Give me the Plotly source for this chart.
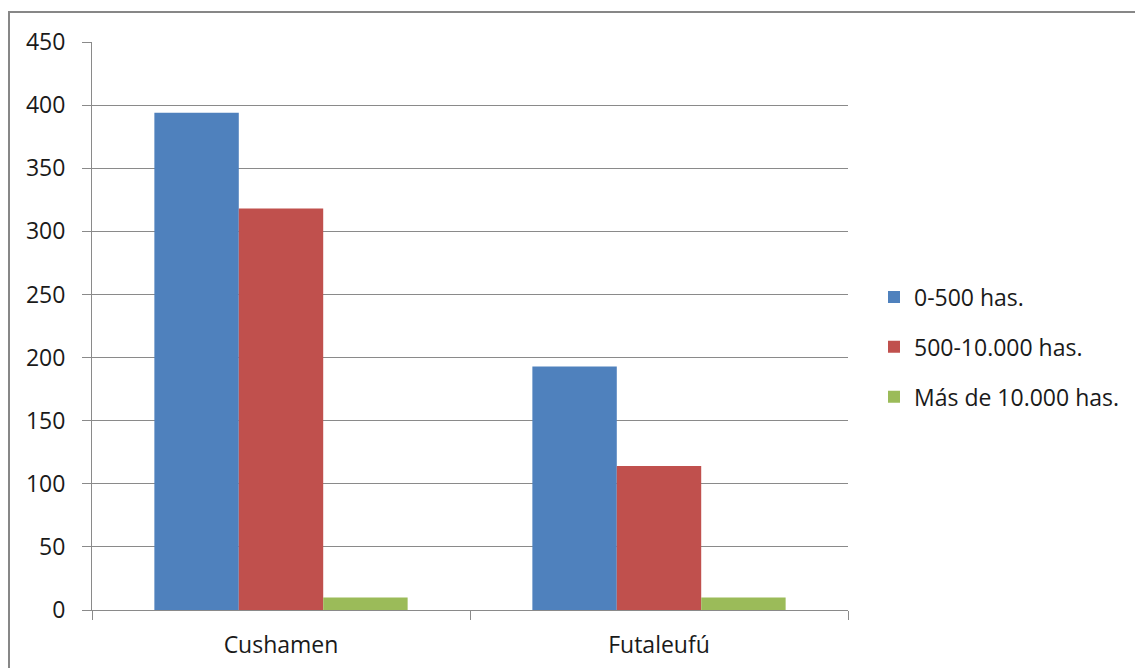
import plotly.graph_objects as go

categories = ["Cushamen", "Futaleufú"]
series_names = ["0-500 has.", "500-10.000 has.", "Más de 10.000 has."]
values_0_500 = [394, 193]
values_500_10000 = [318, 114]
values_mas_10000 = [10, 10]
y_ticks = [0, 50, 100, 150, 200, 250, 300, 350, 400, 450]

colors = ["#4F81BD", "#C0504D", "#9BBB59"]
FONT = "Open Sans"
FS = 23

fig = go.Figure()
for i, (name, vals) in enumerate(zip(series_names, [values_0_500, values_500_10000, values_mas_10000])):
    fig.add_trace(go.Bar(
        x=categories, y=vals, name=name, marker_color=colors[i],
        marker_line_width=0, legendgroup=f"g{i}",
    ))

W, H = 1135, 668
L, R, T, B = 92, 848, 42, 610
pw, ph = R - L, B - T

fig.update_layout(
    width=W, height=H,
    margin=dict(l=L, r=W - R, t=T, b=H - B, pad=0, autoexpand=False),
    paper_bgcolor="white", plot_bgcolor="white",
    barmode="group", bargap=0.33, bargroupgap=0,
    font=dict(family=FONT, size=FS, color="#1a1a1a"),
    legend=dict(
        x=(874 - L) / pw, xanchor="left",
        y=(B - 347) / ph, yanchor="middle",
        font=dict(family=FONT, size=FS, color="#1a1a1a"),
        tracegroupgap=17, itemwidth=30,
        bgcolor="rgba(0,0,0,0)",
    ),
    xaxis=dict(
        type="category", showline=True, linecolor="#8a8a8a", linewidth=1,
        ticks="outside", tickson="boundaries", ticklen=9, tickcolor="#8a8a8a",
        showgrid=False, tickfont=dict(family=FONT, size=FS, color="#1a1a1a"),
        ticklabelstandoff=14, automargin=False,
    ),
    yaxis=dict(
        range=[0, 450], tickvals=y_ticks, showline=True, linecolor="#8a8a8a", linewidth=1,
        ticks="outside", ticklen=9, tickcolor="#8a8a8a",
        showgrid=True, gridcolor="#8a8a8a", gridwidth=1, zeroline=False,
        tickfont=dict(family=FONT, size=FS, color="#1a1a1a"),
        ticklabelstandoff=12, automargin=False,
    ),
    shapes=[dict(
        type="rect", xref="paper", yref="paper",
        x0=(9 - L) / pw, x1=(1145 - L) / pw,
        y0=(B - 680) / ph, y1=(B - 12) / ph,
        line=dict(color="#878787", width=2), fillcolor="rgba(0,0,0,0)", layer="below",
    )],
)

fig.write_html("out.html")
